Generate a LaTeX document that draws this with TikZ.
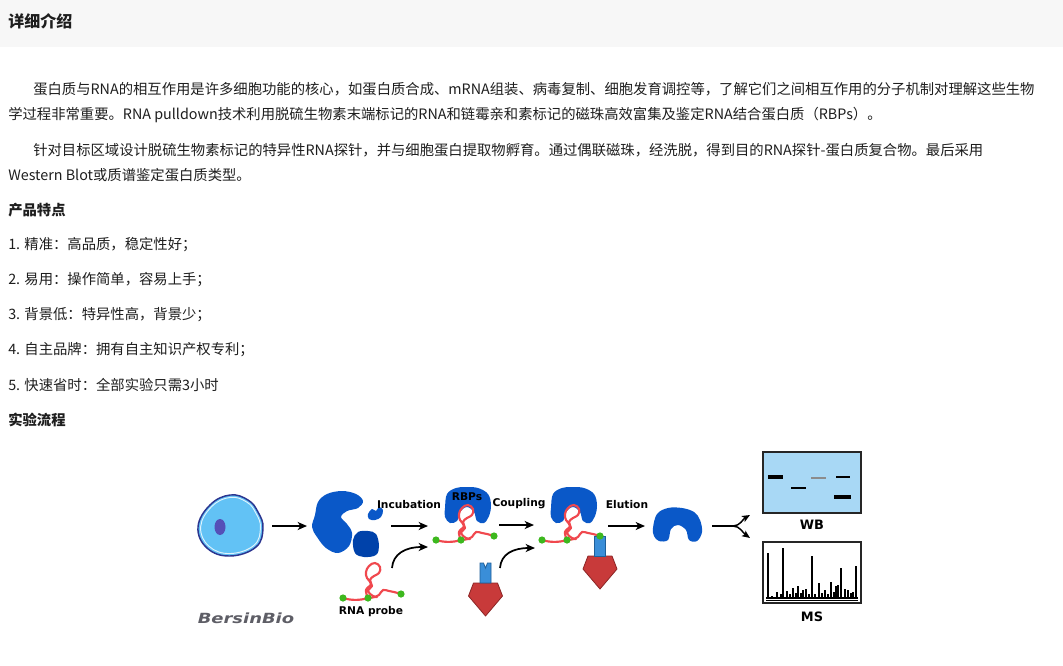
\documentclass[tikz,border=0pt]{standalone}
\usepackage{fontspec}
\usepackage{graphicx}
\setmainfont{Noto Sans CJK SC}
\newfontfamily\dvfont{DejaVu Sans}
\usetikzlibrary{arrows.meta}
\definecolor{txt}{HTML}{1E1E1E}
\definecolor{hdr}{HTML}{F7F7F7}
\definecolor{cellfill}{HTML}{62C2F5}
\definecolor{cellline}{HTML}{2B3590}
\definecolor{nucleus}{HTML}{5550B8}
\definecolor{prot}{HTML}{0A58C8}
\definecolor{protdark}{HTML}{0042AA}
\definecolor{rna}{HTML}{F0484E}
\definecolor{biotin}{HTML}{3DB81E}
\definecolor{bead}{HTML}{C83A3A}
\definecolor{beadline}{HTML}{8B2525}
\definecolor{stem}{HTML}{3A8ED8}
\definecolor{stemline}{HTML}{1F5F99}
\definecolor{wbfill}{HTML}{A8D8F5}
\definecolor{logo}{HTML}{5E5E66}
\tikzset{
  body/.style={anchor=west, inner sep=0pt, text=txt, font=\fontsize{10.75}{12}\selectfont},
  head/.style={body, font=\bfseries\fontsize{10.75}{12}\selectfont},
  lbl/.style={inner sep=0pt, text=black, font=\dvfont\bfseries\fontsize{8}{9}\selectfont},
  biglbl/.style={inner sep=0pt, text=black, font=\dvfont\bfseries\fontsize{9.7}{11}\selectfont},
  flow/.style={line width=1.3pt, -{Stealth[length=7pt,width=6pt,inset=2pt]}},
  rnaline/.style={draw=rna, line width=1.6pt, line cap=round, line join=round},
  dot/.style={fill=biotin},
  protein/.style={fill=prot},
}
\newcommand{\rnamotif}[2]{%
  \begin{scope}[shift={(#1,#2)}]
    \draw[rnaline] (0,0) .. controls (8,2.5) and (17,2.5) .. (25,0);
    \draw[rnaline] plot[smooth, tension=0.6] coordinates {(25,0) (32,-1) (36,-3) (40,-8) (46,-7) (51,-6) (58,-4)};
    \draw[rnaline] plot[smooth, tension=0.7] coordinates {(25,0) (23,-8) (28,-14) (24,-20) (23,-26) (26,-32) (32,-35) (37,-31) (36,-25) (31,-22) (27,-18) (29,-12) (25,-7) (30,-2) (34,-1)};
    \fill[dot] (0,0) circle (3.6);
    \fill[dot] (25,0) circle (3.6);
    \fill[dot] (58,-4) circle (3.6);
  \end{scope}}
\newcommand{\rbpblob}[1]{%
  \begin{scope}[shift={(#1,0)}]
    \fill[protein] plot[smooth cycle, tension=0.6] coordinates {(445,508) (447,494) (456,488) (466,487) (478,488) (488,494) (491,505) (489,516) (484,523) (477,521) (474,512) (467,507) (460,512) (457,521) (450,523) (445,517)};
  \end{scope}}
\newcommand{\beadshape}[3]{%
  \begin{scope}[shift={(#1,#2)}]
    \filldraw[fill=bead, draw=beadline, line width=0.6pt, line join=round] (-12,0) -- (12,0) -- (17,13) -- (0,33) -- (-17,13) -- cycle;
    \ifnum#3=1
      \filldraw[fill=stem, draw=stemline, line width=0.6pt] (-5.5,0) -- (-5.5,-20) -- (-2,-20) -- (0,-15) -- (2,-20) -- (5.5,-20) -- (5.5,0) -- cycle;
    \else
      \filldraw[fill=stem, draw=stemline, line width=0.6pt] (-5.5,0) rectangle (5.5,-20);
    \fi
  \end{scope}}
\begin{document}
\begin{tikzpicture}[x=0.75pt, y=-0.75pt]
\useasboundingbox (0,0) rectangle (1063,665);
\fill[white] (0,0) rectangle (1063,665);
% header
\fill[hdr] (0,0) rectangle (1063,47);
\node[head, font=\bfseries\fontsize{12}{14}\selectfont] (title) at (8,21) {详细介绍};
% paragraphs
\node[body] (p1a) at (33,89) {蛋白质与RNA的相互作用是许多细胞功能的核心，如蛋白质合成、mRNA组装、病毒复制、细胞发育调控等，了解它们之间相互作用的分子机制对理解这些生物};
\node[body] (p1b) at (8,115) {学过程非常重要。RNA pulldown技术利用脱硫生物素末端标记的RNA和链霉亲和素标记的磁珠高效富集及鉴定RNA结合蛋白质（RBPs）。};
\node[body] (p2a) at (33,150) {针对目标区域设计脱硫生物素标记的特异性RNA探针，并与细胞蛋白提取物孵育。通过偶联磁珠，经洗脱，得到目的RNA探针-蛋白质复合物。最后采用};
\node[body] (p2b) at (8,175) {Western Blot或质谱鉴定蛋白质类型。};
\node[head] (feat) at (8,210) {产品特点};
\node[body] (f1) at (8,245) {1. 精准：高品质，稳定性好；};
\node[body] (f2) at (8,280) {2. 易用：操作简单，容易上手；};
\node[body] (f3) at (8,315) {3. 背景低：特异性高，背景少；};
\node[body] (f4) at (8,350) {4. 自主品牌：拥有自主知识产权专利；};
\node[body] (f5) at (8,385) {5. 快速省时：全部实验只需3小时};
\node[head] (flowhead) at (8,420) {实验流程};

% ---------------- diagram ----------------
% cell
\begin{scope}[shift={(231,525)}]
  \filldraw[fill=cellfill, draw=cellline, line width=1.1pt] plot[smooth cycle, tension=0.7] coordinates {(-33,2) (-21,-20) (-1,-30) (17,-25) (27,-13) (32,3) (25,22) (-1,31) (-24,23)};
  \draw[white!80!cellfill, line width=0.7pt, scale=0.92] plot[smooth cycle, tension=0.7] coordinates {(-33,2) (-21,-20) (-1,-30) (17,-25) (27,-13) (32,3) (25,22) (-1,31) (-24,23)};
  \fill[nucleus] (-11,2) ellipse (5.5 and 8);
\end{scope}
% lysate
\fill[prot] plot[smooth cycle, tension=0.6] coordinates {(315,515) (318,502) (327,494) (342,491) (356,494) (363,501) (358,508) (347,511) (341,517) (347,524) (352,533) (349,546) (338,553) (326,548) (317,537) (312,527)};
\fill[protdark] plot[smooth cycle, tension=0.6] coordinates {(353,540) (358,532) (368,531) (376,534) (379,546) (376,555) (364,557) (355,553)};
\fill[prot] plot[smooth cycle, tension=0.6] coordinates {(368,514) (372,509) (376,511) (379,507) (383,510) (381,517) (375,520) (369,519)};
% RNA probe
\rnamotif{343}{598}
\node[lbl] (probe) at (371,612) {RNA probe};
% complex 1
\rbpblob{0}
\rnamotif{436}{540}
\node[lbl] (rbps) at (467,497) {RBPs};
% bead 1
\beadshape{485.5}{583}{1}
% complex 2
\rbpblob{106}
\beadshape{600}{556}{0}
\rnamotif{542}{540}
% eluted protein
\fill[protein] plot[smooth cycle, tension=0.6] coordinates {(653,528) (657,514) (668,508) (682,508) (694,512) (700,520) (702,532) (697,541) (689,540) (686,530) (678,525) (671,529) (668,540) (659,541) (654,536)};

% step labels
\node[lbl] (incub) at (409,505) {Incubation};
\node[lbl] (coup) at (519,504) {Coupling};
\node[lbl] (elut) at (627,505) {Elution};

% arrows
\coordinate (a1s) at (272,526); \coordinate (a1e) at (307,526);
\coordinate (a2s) at (391,526); \coordinate (a2e) at (428,526);
\coordinate (a3s) at (499,525); \coordinate (a3e) at (534,525);
\coordinate (a4s) at (608,526); \coordinate (a4e) at (645,526);
\draw[flow] (a1s) -- (a1e);
\draw[flow] (a2s) -- (a2e);
\draw[flow] (a3s) -- (a3e);
\draw[flow] (a4s) -- (a4e);
\coordinate (c1s) at (392,568); \coordinate (c1e) at (428,547);
\coordinate (c2s) at (500,568); \coordinate (c2e) at (535,548);
\draw[flow] (c1s) .. controls (393,554) and (405,547) .. (c1e);
\draw[flow] (c2s) .. controls (501,554) and (513,548) .. (c2e);
% split arrow
\coordinate (sp0) at (712,526); \coordinate (sp1) at (733,526);
\coordinate (spu) at (750,515); \coordinate (spd) at (750,538);
\draw[line width=1.3pt] (sp0) -- (sp1);
\draw[line width=1.1pt, -{Stealth[length=6pt,width=5pt,inset=1.5pt]}] (sp1) .. controls (740,526) and (743,519) .. (spu);
\draw[line width=1.1pt, -{Stealth[length=6pt,width=5pt,inset=1.5pt]}] (sp1) .. controls (740,526) and (743,533) .. (spd);

% WB
\filldraw[fill=wbfill, draw=black!85, line width=1.5pt] (763,452) rectangle (861,513);
\draw[line width=2.4pt] (768,477) -- (783,477);
\draw[line width=1.5pt] (791,488) -- (806,488);
\draw[line width=1.2pt, black!45] (811,478) -- (826,478);
\draw[line width=1.5pt] (836,477) -- (850,477);
\draw[line width=2.6pt] (834,497) -- (851,497);
\node[biglbl] (wb) at (812,525) {WB};
% MS
\filldraw[fill=white, draw=black!85, line width=1.5pt] (763,542) rectangle (861,603);
\draw[line width=1.2pt] (766,598) -- (858,598);
\draw[line width=0.5pt] (766,600.5) -- (858,600.5);
\foreach \x/\t in {768/553, 783/548, 812/556, 841/568, 856/566}
  \draw[line width=1pt] (\x,598) -- (\x,\t);
\foreach \x/\t in {772/596, 777/592, 781/594, 787/591, 790/594, 793/588, 796/593, 798/586, 801/593, 803/590, 806/589, 809/594, 815/594, 819/583, 822/593, 825/590, 828/594, 831/582, 834/592, 836/586, 838/585, 841/593, 845/589, 848/590, 851/593, 853/592}
  \draw[line width=0.8pt] (\x,598) -- (\x,\t);
\node[biglbl] (ms) at (812,617) {MS};

% logo
\node[inner sep=0pt, text=logo, font=\dvfont\bfseries\itshape\fontsize{10.5}{12}\selectfont] (logo) at (246,618) {\scalebox{1.28}[1]{BersinBio}};
\end{tikzpicture}
\end{document}
